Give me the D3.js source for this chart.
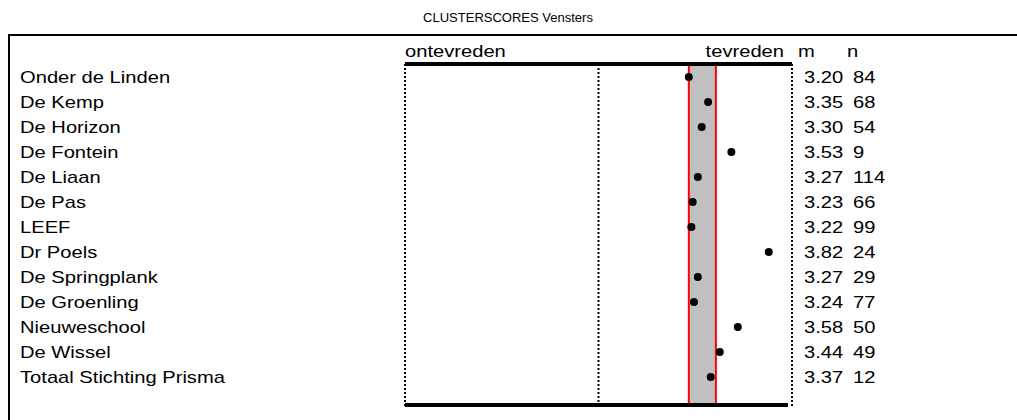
<!DOCTYPE html>
<html>
<head>
<meta charset="utf-8">
<script src="https://cdn.jsdelivr.net/npm/d3@7"></script>
<style>
  body { margin: 0; background: #fff; }
  text { font-family: "Liberation Sans", Arial, sans-serif; fill: #000; }
</style>
</head>
<body>
<div id="chart"></div>
<script>
// data
var title = "CLUSTERSCORES Vensters";
var schools = ["Onder de Linden", "De Kemp", "De Horizon", "De Fontein", "De Liaan", "De Pas", "LEEF",
  "Dr Poels", "De Springplank", "De Groenling", "Nieuweschool", "De Wissel", "Totaal Stichting Prisma"];
var means = [3.20, 3.35, 3.30, 3.53, 3.27, 3.23, 3.22, 3.82, 3.27, 3.24, 3.58, 3.44, 3.37];
var counts = [84, 68, 54, 9, 114, 66, 99, 24, 29, 77, 50, 49, 12];
var band = [3.2, 3.41];
var gridValues = [1, 2.5, 4];
var headers = { left: "ontevreden", right: "tevreden", m: "m", n: "n" };

var width = 1017, height = 420;
var fontSize = 16;
var stretch = 1.26;   // text in the original is drawn wide

var svg = d3.select("#chart").append("svg")
    .attr("width", width)
    .attr("height", height);

var x = d3.scaleLinear().domain([1, 4]).range([405, 792]);
var y = d3.scalePoint().domain(schools).range([77, 377]);

var plotTop = 64, plotBottom = 405;

//wide text helper
function wideText(sel, tx, ty, str, anchor) {
  return sel.append("text")
      .attr("transform", "translate(" + tx + "," + ty + ") scale(" + stretch + ",1)")
      .attr("text-anchor", anchor || "start")
      .style("font-size", fontSize + "px")
      .text(str);
}

//title
svg.append("text")
    .attr("x", 508)
    .attr("y", 22)
    .attr("text-anchor", "middle")
    .style("font-size", "13px")
    .text(title);

//outer frame, runs off the page right and bottom
svg.append("rect")
    .attr("x", 9)
    .attr("y", 35)
    .attr("width", 1100)
    .attr("height", 500)
    .attr("fill", "none")
    .attr("stroke", "#000")
    .attr("stroke-width", 2);

//reference band
svg.append("rect")
    .attr("x", x(band[0]))
    .attr("y", plotTop)
    .attr("width", x(band[1]) - x(band[0]))
    .attr("height", plotBottom - plotTop)
    .attr("fill", "#c0c0c0");

svg.selectAll(".bandline")
    .data(band)
    .enter().append("line")
    .attr("x1", function(d) { return x(d); })
    .attr("x2", function(d) { return x(d); })
    .attr("y1", plotTop)
    .attr("y2", plotBottom)
    .attr("stroke", "#ff0000")
    .attr("stroke-width", 2);

//dotted gridlines
svg.selectAll(".grid")
    .data(gridValues)
    .enter().append("line")
    .attr("x1", function(d) { return x(d); })
    .attr("x2", function(d) { return x(d); })
    .attr("y1", plotTop)
    .attr("y2", plotBottom + 2)
    .attr("stroke", "#000")
    .attr("stroke-width", 2)
    .attr("stroke-dasharray", "2,2");

//top and bottom axis lines
svg.append("line")
    .attr("x1", x(1)).attr("x2", x(4))
    .attr("y1", plotTop).attr("y2", plotTop)
    .attr("stroke", "#000").attr("stroke-width", 4);

svg.append("line")
    .attr("x1", x(1)).attr("x2", x(4) - 4)
    .attr("y1", plotBottom).attr("y2", plotBottom)
    .attr("stroke", "#000").attr("stroke-width", 4);

//headers
var hy = 57;
wideText(svg, x(1), hy, headers.left);
wideText(svg, 784, hy, headers.right, "end");
wideText(svg, 798, hy, headers.m);
wideText(svg, 847, hy, headers.n);

//rows
var rows = svg.selectAll(".row")
    .data(schools)
    .enter().append("g")
    .attr("transform", function(d) { return "translate(0," + y(d) + ")"; });

rows.each(function(d, i) {
  var g = d3.select(this);
  wideText(g, 20, 6, d);
  wideText(g, 804, 6, means[i].toFixed(2));
  wideText(g, 853, 6, counts[i]);
});

rows.append("circle")
    .attr("cx", function(d, i) { return x(means[i]); })
    .attr("cy", 0)
    .attr("r", 4)
    .attr("fill", "#000");
</script>
</body>
</html>
